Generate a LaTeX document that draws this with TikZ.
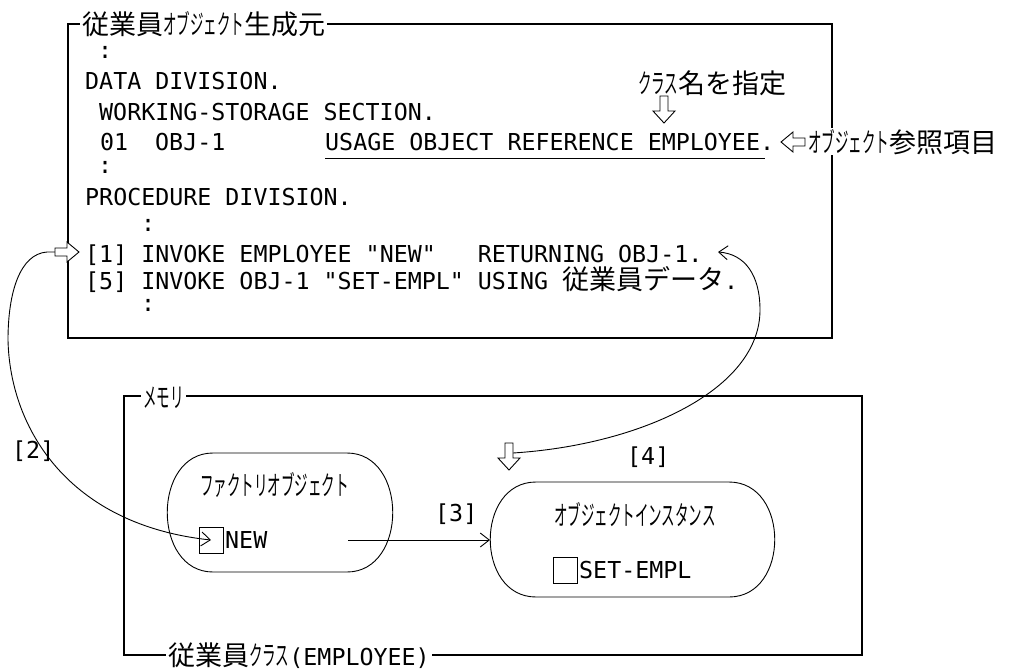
\documentclass[tikz,border=0pt]{standalone}
\usepackage{fontspec}
\usepackage{graphicx}
\setmonofont{DejaVu Sans Mono}
\newfontfamily\cjk{Noto Sans CJK JP}
\usetikzlibrary{arrows.meta}
\newcommand{\kj}[1]{{\cjk\fontsize{27pt}{27pt}\selectfont #1}}
\newcommand{\hk}[1]{\scalebox{0.5}[1]{\kj{#1}}}
\newcommand{\mofont}{\ttfamily\fontsize{23.3pt}{24pt}\selectfont}
\tikzset{
  boxline/.style={line width=1.4pt},
  thinline/.style={line width=0.9pt},
  txt/.style={anchor=base west, inner sep=0pt},
  lbl/.style={anchor=base west, inner xsep=2pt, inner ysep=1pt, fill=white},
  barb/.style={-{Straight Barb[length=9pt,width=14pt,line width=0.9pt]}},
  smallbox/.style={draw, line width=0.9pt, minimum width=24pt, minimum height=26pt, inner sep=0pt},
  hdown/.pic={\draw[line width=0.9pt, fill=white] (0,0) -- (-11,-12) -- (-4,-12) -- (-4,-27) -- (4,-27) -- (4,-12) -- (11,-12) -- cycle;},
  hright/.pic={\draw[line width=0.9pt, fill=white] (0,0) -- (-12,-10) -- (-12,-4) -- (-24,-4) -- (-24,4) -- (-12,4) -- (-12,10) -- cycle;},
  hleft/.pic={\draw[line width=0.9pt, fill=white] (0,0) -- (12,-10) -- (12,-4) -- (24,-4) -- (24,4) -- (12,4) -- (12,10) -- cycle;}
}
\begin{document}
\begin{tikzpicture}[x=1pt,y=-1pt,font=\mofont]
\useasboundingbox (0,0) rectangle (1020,670);
% ---------- curves (behind boxes) ----------
\coordinate (c2start) at (55,252);
\node[smallbox] (newbox) at (211,540) {};
\draw[thinline, barb] (c2start) -- (47,252) .. controls (20,254) and (8,292) .. (8,340)
   .. controls (10,430) and (70,525) .. (newbox.center);
\coordinate (d4) at (513,453);
\coordinate (ret) at (718,252);
\draw[thinline, barb] (d4) .. controls (640,445) and (760,390) .. (760,310)
   .. controls (760,275) and (745,254) .. (ret);
% ---------- top box ----------
\draw[boxline] (68,24) rectangle (832,338);
\node[lbl] (title1) at (80,34) {\kj{従業員}\hk{オブジェクト}\kj{生成元}};
\node[txt] (col1) at (98,58.4) {:};
\node[txt] (data) at (85,89.5) {DATA DIVISION.};
\node[txt] (ws) at (99,120.5) {WORKING-STORAGE SECTION.};
\node[txt] (lv01) at (100,150.5) {01};
\node[txt] (obj1) at (155,150.5) {OBJ-1};
\node[txt] (usage) at (325,150.5) {USAGE OBJECT REFERENCE EMPLOYEE.};
\draw[thinline] ([yshift=-7.5pt]usage.base west) -- ++(440,0);
\node[txt] (cls) at (638,93) {\hk{クラス}\kj{名を指定}};
\pic at (664,123) {hdown};
\pic at (781,142) {hleft};
\node[lbl] (ref) at (806,152) {\hk{オブジェクト}\kj{参照項目}};
\node[txt] (col2) at (98,173.4) {:};
\node[txt] (proc) at (85,205.5) {PROCEDURE DIVISION.};
\node[txt] (col3) at (141,231.4) {:};
\node[txt] (inv1) at (85,262.5) {[1] INVOKE EMPLOYEE "NEW"\ \ \ RETURNING OBJ-1.};
\node[txt] (inv5) at (85,289.5) {[5] INVOKE OBJ-1 "SET-EMPL" USING \kj{従業員データ}.};
\node[txt] (col4) at (141,311.4) {:};
\pic at (79,252) {hright};
% ---------- bottom box ----------
\draw[boxline] (124,396) rectangle (862,655);
\node[lbl] (mem) at (141,407) {\hk{メモリ}\ };
\node[lbl] (cls2) at (166,665) {\kj{従業員}\hk{クラス}(EMPLOYEE)\ };
% factory object
\draw[thinline] (213,453) -- (347,453) .. controls (408,453) and (408,572) .. (347,572)
   -- (213,572) .. controls (152,572) and (152,453) .. (213,453) -- cycle;
\node[txt] (fac) at (200,495) {\hk{ファクトリオブジェクト}};
\node[smallbox] at (211,540) {};
\node[txt] (new) at (225,548.4) {NEW};
% object instance
\draw[thinline] (536,482) -- (729,482) .. controls (790,482) and (790,597) .. (729,597)
   -- (536,597) .. controls (475,597) and (475,482) .. (536,482) -- cycle;
\coordinate (inst) at (490,540);
\node[txt] (insttxt) at (554,525) {\hk{オブジェクトインスタンス}};
\node[smallbox] (setbox) at (565,570) {};
\node[txt] (set) at (579,578.4) {SET-EMPL};
\pic at (509,470) {hdown};
% [3]
\coordinate (a3) at (348,540);
\draw[thinline, barb] (a3) -- (inst);
% labels
\node[txt] (l2) at (12,458) {[2]};
\node[txt] (l3) at (435,521.6) {[3]};
\node[txt] (l4) at (627,464.6) {[4]};
\end{tikzpicture}
\end{document}
